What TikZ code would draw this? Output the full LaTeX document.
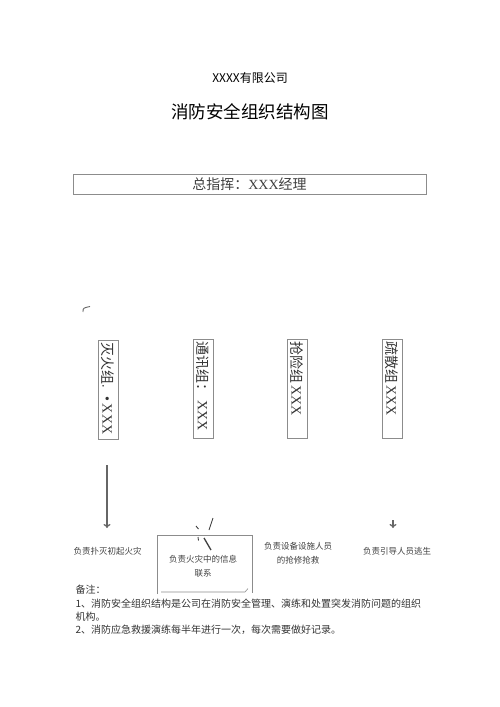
\documentclass[tikz,border=0pt]{standalone}
\usepackage{fontspec}
\setmainfont{Liberation Serif}
\newfontfamily\cjk{Noto Sans CJK SC}
\usepackage{tikz}
\usetikzlibrary{positioning}
\usetikzlibrary{arrows.meta}

\begin{document}
\begin{tikzpicture}[x=1pt,y=-1pt,
    frame/.style={draw=black!45, line width=0.8pt},
    groupbox/.style={frame, rotate=-90, minimum width=99pt, minimum height=20pt,
        inner sep=2pt, text width=94pt, align=left, text=black!80,
        font=\fontsize{14}{14}\selectfont},
    duty/.style={font=\cjk\fontsize{8.5}{14}\selectfont, align=center, text=black!75},
    note/.style={font=\cjk\fontsize{10}{12}\selectfont, anchor=west, text=black!80},
    conn/.style={draw=black!60, line width=1.3pt, -{To[length=4pt,width=7pt]}},
    stroke/.style={draw=black!75, line width=0.9pt}]
    \useasboundingbox (0,0) rectangle (500,707);
    % Header
    \node (company) at (250,78) {\cjk\fontsize{12}{12}\selectfont XXXX有限公司};
    \node (title) at (250,112) {\cjk\fontsize{17.5}{18}\selectfont 消防安全组织结构图};
    \node[frame, minimum width=353pt, minimum height=20pt, text=black!75,
        font=\fontsize{14}{14}\selectfont] (chief) at (249.5,184)
        {{\cjk 总指挥：}XXX{\cjk 经理}};
    \draw[stroke, black!60] (83,312) .. controls (83,308) .. (90,306.5);
    % Group boxes (vertical text)
    \node[groupbox] (fire) at (108,389.5) {{\cjk 灭火组}.\hspace{9pt}•\hspace{2pt}XXX};
    \node[groupbox] (comm) at (203,388.5) {{\cjk 通讯组：}\hspace{3pt}XXX};
    \node[groupbox] (rescue) at (297,388.5) {{\cjk 抢险组}\hspace{2pt}XXX};
    \node[groupbox] (evac) at (392,388.5) {{\cjk 疏散组}\hspace{2pt}XXX};
    % Arrows
    \coordinate (fire top) at (107,465);
    \coordinate (fire tip) at (107,528);
    \draw[conn] (fire top) -- (fire tip);
    \coordinate (evac top) at (393,520);
    \coordinate (evac tip) at (393,528);
    \draw[conn] (evac top) -- (evac tip);
    % Stray strokes above the info box
    \draw[stroke] (196,526) -- (198.5,529);
    \draw[stroke] (213,518) -- (209,530);
    \draw[stroke] (198,537) -- (198.5,540.5);
    \draw[stroke, line width=1.3pt] (204,538) -- (211,550);
    % Duties
    \node[duty] (fire duty) at (107.5,551) {负责扑灭初起火灾};
    \draw[frame] (157,594) |- (252,535) -- (252,593);
    \draw[frame, line width=0.6pt] (161,592) -- (245,592) -- (248,588.5);
    \node[duty] (comm duty) at (203,566) {负责火灾中的信息\\联系};
    \node[duty] (rescue duty) at (298,553) {负责设备设施人员\\的抢修抢救};
    \node[duty] (evac duty) at (397,551) {负责引导人员逃生};
    % Remarks
    \node[note] (remark) at (72,590) {备注：};
    \node[note] (note one) at (72,604) {1、消防安全组织结构是公司在消防安全管理、演练和处置突发消防问题的组织};
    \node[note] (note one b) at (72,617) {机构。};
    \node[note] (note two) at (72,630) {2、消防应急救援演练每半年进行一次，每次需要做好记录。};
\end{tikzpicture}
\end{document}
